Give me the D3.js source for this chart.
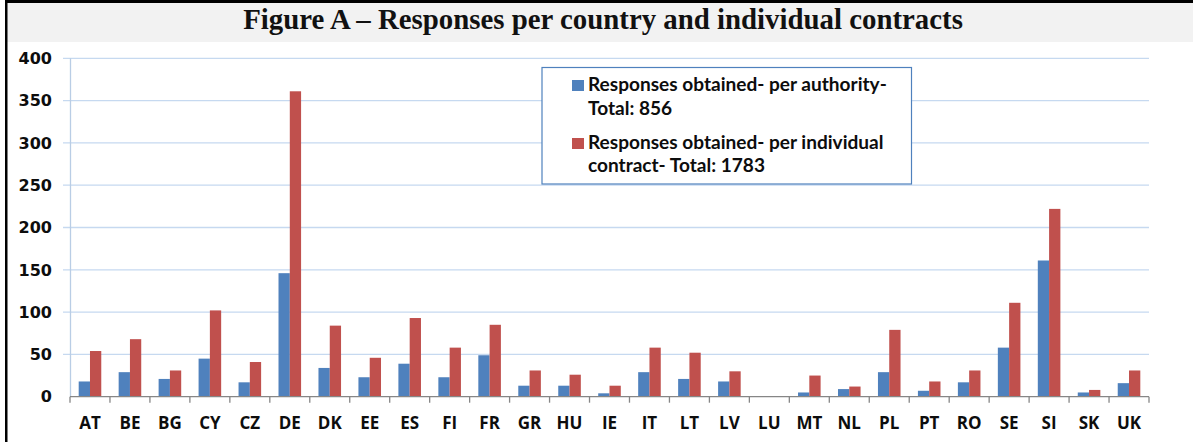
<!DOCTYPE html>
<html>
<head>
<meta charset="utf-8">
<script src="https://cdn.jsdelivr.net/npm/d3@7"></script>
<style>
  html, body { margin: 0; padding: 0; background: #fff; }
  svg { display: block; }
</style>
</head>
<body>
<script>
const countries = ["AT","BE","BG","CY","CZ","DE","DK","EE","ES","FI","FR","GR","HU","IE","IT","LT","LV","LU","MT","NL","PL","PT","RO","SE","SI","SK","UK"];
const perAuthority = [18,29,21,45,17,146,34,23,39,23,49,13,13,4,29,21,18,0,5,9,29,7,17,58,161,5,16];
const perContract  = [54,68,31,102,41,361,84,46,93,58,85,31,26,13,58,52,30,0,25,12,79,18,31,111,222,8,31];
const yTicks = [0,50,100,150,200,250,300,350,400];
const seriesNames = ["authority","contract"];
const legendLines = [
  ["Responses obtained- per authority-", "Total: 856"],
  ["Responses obtained- per individual", "contract- Total: 1783"]
];
const title = "Figure A \u2013 Responses per country and individual contracts";

const width = 1193;
const height = 442;
const colors = {authority: "#4f81bd", contract: "#c0504d"};

const svg = d3.select("body").append("svg")
    .attr("width", width)
    .attr("height", height);

// frame + title band
svg.append("rect").attr("x", 7).attr("y", 3).attr("width", width - 7).attr("height", 39).attr("fill", "#f2f2f2");
svg.append("rect").attr("x", 5).attr("y", 0).attr("width", width - 5).attr("height", 3).attr("fill", "#000");
svg.append("rect").attr("x", 5).attr("y", 0).attr("width", 2.5).attr("height", height).attr("fill", "#000");

const t = svg.append("text")
    .attr("x", 603)
    .attr("y", 29)
    .attr("text-anchor", "middle")
    .attr("font-family", "Liberation Serif, serif")
    .attr("font-weight", "bold")
    .attr("font-size", 20)
    .attr("fill", "#111")
    .text(title);
t.attr("font-size", 20 * 720 / t.node().getComputedTextLength());

const x = d3.scaleBand()
    .domain(countries)
    .range([70, 1149])
    .paddingInner(0)
    .paddingOuter(0);

const xs = d3.scaleBand()
    .domain(seriesNames)
    .range([0, x.bandwidth()])
    .paddingInner(0)
    .paddingOuter(0.77);

const y = d3.scaleLinear()
    .domain([0, 400])
    .range([396.7, 58.3]);

// gridlines
svg.append("g")
  .selectAll("line")
  .data(yTicks.filter(d => d > 0))
  .join("line")
    .attr("x1", 63)
    .attr("x2", 1149)
    .attr("y1", d => y(d))
    .attr("y2", d => y(d))
    .attr("stroke", "#c6d9f0")
    .attr("stroke-width", 1.3);

// y axis line
svg.append("line")
    .attr("x1", 70.5).attr("x2", 70.5)
    .attr("y1", y(400)).attr("y2", y(0))
    .attr("stroke", "#b9cde5")
    .attr("stroke-width", 1.3);

svg.append("g")
  .selectAll("text")
  .data(yTicks)
  .join("text")
    .attr("x", 52)
    .attr("y", d => y(d))
    .attr("dy", "0.36em")
    .attr("text-anchor", "end")
    .attr("font-family", "DejaVu Sans, sans-serif")
    .attr("font-weight", "bold")
    .attr("font-size", 16)
    .attr("fill", "#0d0d0d")
    .text(d => d);

// bars
const rows = countries.map((c, i) => ({country: c, authority: perAuthority[i], contract: perContract[i]}));

svg.append("g")
  .selectAll("g")
  .data(rows)
  .join("g")
    .attr("transform", d => `translate(${x(d.country)},0)`)
  .selectAll("rect")
  .data(d => seriesNames.map(k => ({key: k, value: d[k]})))
  .join("rect")
    .attr("x", d => xs(d.key))
    .attr("width", xs.bandwidth())
    .attr("y", d => y(d.value))
    .attr("height", d => y(0) - y(d.value))
    .attr("fill", d => colors[d.key]);

// x axis
const xAxis = svg.append("g")
    .attr("transform", `translate(0,${y(0)})`);
xAxis.append("line")
    .attr("x1", 70).attr("x2", 1149)
    .attr("stroke", "#868686")
    .attr("stroke-width", 1.3);
xAxis.selectAll("line.tick")
  .data(countries.concat(["__end"]))
  .join("line")
    .attr("class", "tick")
    .attr("x1", (d, i) => x.range()[0] + i * x.step())
    .attr("x2", (d, i) => x.range()[0] + i * x.step())
    .attr("y1", 0)
    .attr("y2", 6)
    .attr("stroke", "#868686")
    .attr("stroke-width", 1.3);
xAxis.selectAll("text")
  .data(countries)
  .join("text")
    .attr("x", d => x(d) + x.bandwidth() / 2)
    .attr("y", 32.5)
    .attr("text-anchor", "middle")
    .attr("font-family", "Open Sans, sans-serif")
    .attr("font-weight", "bold")
    .attr("font-size", 17)
    .attr("fill", "#0d0d0d")
    .text(d => d);

// legend
const lg = svg.append("g");
lg.append("rect")
    .attr("x", 542).attr("y", 67.5)
    .attr("width", 369.5).attr("height", 116.5)
    .attr("fill", "#fff")
    .attr("stroke", "#4f81bd")
    .attr("stroke-width", 1.2);

const legendY = [[90.5, 115], [148.5, 171.5]];
seriesNames.forEach((k, i) => {
  lg.append("rect")
      .attr("x", 572).attr("y", legendY[i][0] - 10.5)
      .attr("width", 12).attr("height", 11)
      .attr("fill", colors[k]);
  legendLines[i].forEach((line, j) => {
    lg.append("text")
        .attr("class", "leg")
        .attr("x", 588)
        .attr("y", legendY[i][j])
        .attr("font-family", "Lato, sans-serif")
        .attr("font-weight", "bold")
        .attr("font-size", 17)
        .attr("fill", "#0d0d0d")
        .text(line);
  });
});
const first = lg.select("text.leg");
const fs = 17 * 299 / first.node().getComputedTextLength();
lg.selectAll("text.leg").attr("font-size", fs);
</script>
</body>
</html>
